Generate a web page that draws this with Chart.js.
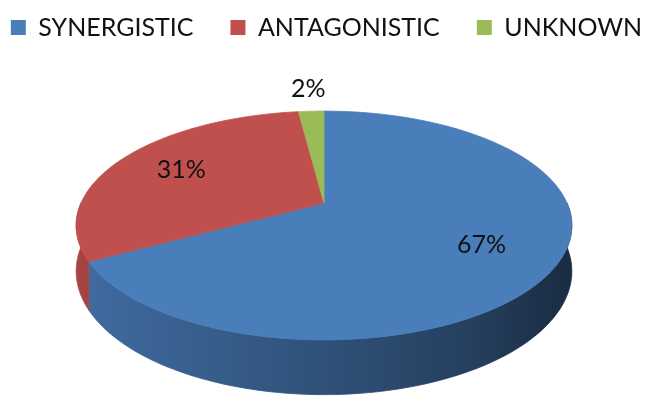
<!DOCTYPE html>
<html>
<head>
<meta charset="utf-8">
<script src="https://cdn.jsdelivr.net/npm/chart.js@4.4.1/dist/chart.umd.min.js"></script>
<style>
  html, body { margin: 0; padding: 0; background: #fff; }
  #wrap { width: 653px; height: 398px; position: relative; }
</style>
</head>
<body>
<div id="wrap"><canvas id="pie"></canvas></div>
<script>
const categories = ["SYNERGISTIC", "ANTAGONISTIC", "UNKNOWN"];
const shares = [67, 31, 2];
const sliceColors = ["#4a7ebb", "#c0504d", "#9bbb59"];

// fake 3d: chart.js lays out the arcs, we project them onto a tilted disc
const disc = { cx: 324, cy: 203, kx: 243, ky: 110, tilt: 0.1965, depth: 44 };

function project(r, a) {
    const w = 1 - disc.tilt * r * Math.sin(a);
    return {
        x: disc.cx + disc.kx * r * Math.cos(a) / w,
        y: disc.cy + disc.ky * r * Math.sin(a) / w,
        w: w
    };
}

function shade(hex, f) {
    const n = parseInt(hex.slice(1), 16);
    const r = Math.round(((n >> 16) & 255) * f);
    const g = Math.round(((n >> 8) & 255) * f);
    const b = Math.round((n & 255) * f);
    return "rgb(" + r + "," + g + "," + b + ")";
}

function rim(ctx, a0, a1, down) {
    const steps = 80;
    for (let k = 0; k <= steps; k++) {
        const t = down ? a0 + (a1 - a0) * k / steps : a1 - (a1 - a0) * k / steps;
        const p = project(1, t);
        const y = down ? p.y : p.y + disc.depth / p.w;
        ctx.lineTo(p.x, y);
    }
}

const pie3d = {
    id: "pie3d",
    beforeDatasetsDraw(chart) {
        const ctx = chart.ctx;
        const arcs = chart.getDatasetMeta(0).data;
        const colors = chart.data.datasets[0].backgroundColor;
        ctx.save();
        // walls: only the front half (0..PI) is visible
        arcs.forEach((arc, i) => {
            const a0 = Math.max(arc.startAngle, 0);
            const a1 = Math.min(arc.endAngle, Math.PI);
            if (a1 <= a0) return;
            const grad = ctx.createLinearGradient(disc.cx - 250, 0, disc.cx + 250, 0);
            [[0, 0.86], [0.5, 0.64], [0.8, 0.5], [1, 0.34]].forEach((s) => grad.addColorStop(s[0], shade(colors[i], s[1])));
            ctx.beginPath();
            const p0 = project(1, a0);
            ctx.moveTo(p0.x, p0.y);
            rim(ctx, a0, a1, true);
            rim(ctx, a0, a1, false);
            ctx.closePath();
            ctx.fillStyle = grad;
            ctx.strokeStyle = grad;
            ctx.lineWidth = 0.8;
            ctx.fill();
            ctx.stroke();
        });
        // top faces
        arcs.forEach((arc, i) => {
            ctx.beginPath();
            ctx.moveTo(disc.cx, disc.cy);
            rim(ctx, arc.startAngle, arc.endAngle, true);
            ctx.closePath();
            ctx.fillStyle = colors[i];
            ctx.strokeStyle = colors[i];
            ctx.lineWidth = 0.8;
            ctx.fill();
            ctx.stroke();
        });
        ctx.restore();
        return false;
    },
    afterDraw(chart) {
        const ctx = chart.ctx;
        const arcs = chart.getDatasetMeta(0).data;
        const values = chart.data.datasets[0].data;
        const total = values.reduce((a, b) => a + b, 0);
        ctx.save();
        ctx.font = "25px Lato";
        ctx.fillStyle = "#111";
        ctx.textAlign = "center";
        ctx.textBaseline = "middle";
        arcs.forEach((arc, i) => {
            const frac = values[i] / total;
            const mid = (arc.startAngle + arc.endAngle) / 2;
            const p = project(frac < 0.05 ? 1.3 : 0.7, mid);
            ctx.fillText(Math.round(frac * 100) + "%", p.x, p.y);
        });
        ctx.restore();
    }
};

new Chart(document.getElementById("pie"), {
    type: "pie",
    data: {
        labels: categories,
        datasets: [{
            data: shares,
            backgroundColor: sliceColors,
            borderWidth: 0
        }]
    },
    options: {
        responsive: true,
        maintainAspectRatio: false,
        animation: false,
        layout: {
            padding: { top: -22, left: -50, right: -50, bottom: 0 }
        },
        plugins: {
            legend: {
                position: "top",
                labels: {
                    font: { family: "Lato", size: 25 },
                    color: "#111",
                    boxWidth: 15,
                    boxHeight: 15,
                    padding: 37
                }
            },
            tooltip: { enabled: false }
        }
    },
    plugins: [pie3d]
});
</script>
</body>
</html>
